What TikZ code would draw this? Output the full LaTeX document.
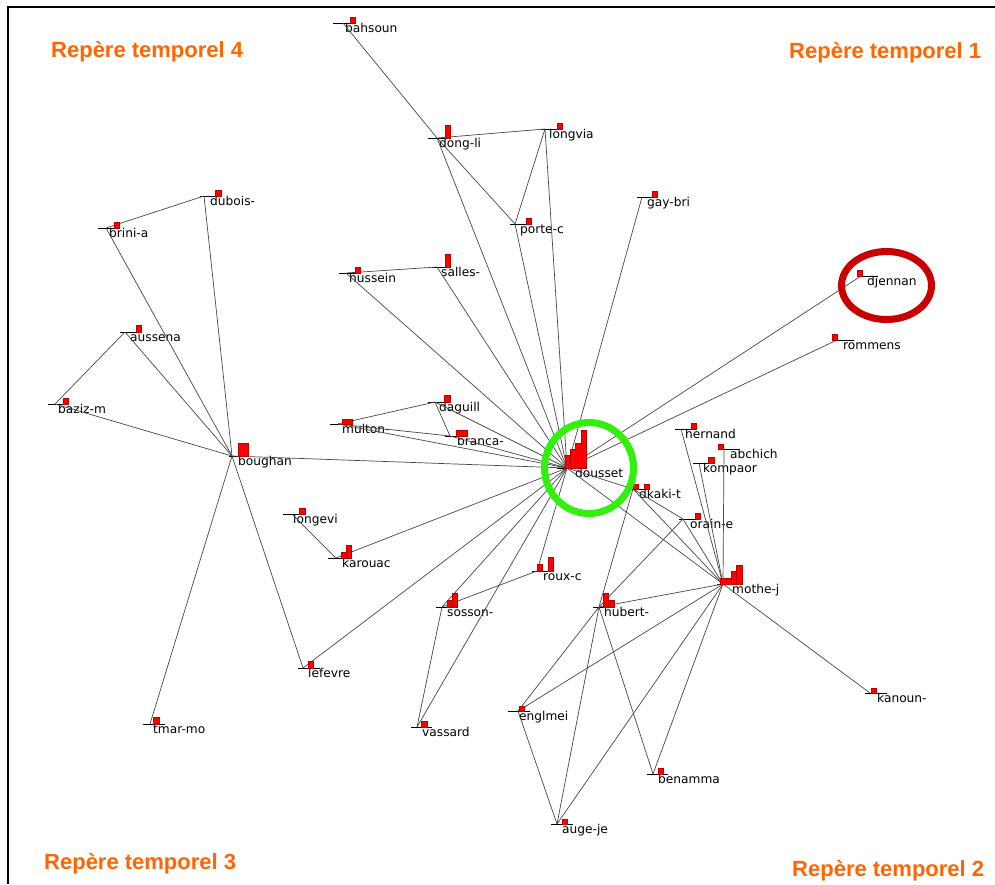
\documentclass[tikz,border=0pt]{standalone}
\usepackage{fontspec}
\setmainfont{DejaVu Sans}
\newfontfamily\titlefont{Liberation Sans}
\definecolor{orangeT}{RGB}{255,102,0}
\definecolor{redE}{RGB}{200,0,0}
\definecolor{greenC}{RGB}{50,240,10}
\definecolor{barred}{RGB}{255,0,0}
\tikzset{
  edge/.style={draw=black!72, line width=0.7pt},
  tickline/.style={draw=black, line width=0.7pt},
  barbox/.style={fill=barred, draw=red!75!black, line width=0.3pt},
  lbl/.style={anchor=base west, inner sep=0pt, font=\fontsize{12.2}{14}\selectfont, text=black},
  ttl/.style={anchor=base west, inner sep=0pt, font=\titlefont\bfseries\fontsize{22}{26}\selectfont, text=orangeT},
  anc/.style={inner sep=0pt, minimum size=0pt},
  ring/.style={line width=7pt},
}
% name, anchor x, line y, line left, line right, label x, text
\newcommand{\gnode}[7]{%
  \node[anc] (#1) at (#2,#3) {};
  \draw[tickline] (#4,#3) -- (#5,#3);
  \node[lbl] (#1-l) at (#6,#3+9.5) {#7};
}
\newcommand{\gbar}[4]{\fill[barbox] (#1,#3) rectangle (#2,#4);}
\begin{document}
\begin{tikzpicture}[x=1pt,y=-1pt]
\useasboundingbox (0,0) rectangle (995,884);
\fill[white] (0,0) rectangle (995,884);
\draw[line width=2pt] (995,7) -- (8,7) -- (8,884);

% nodes
\gnode{bahsoun}{343}{23}{333}{350}{345}{bahsoun}
\gnode{dongli}{437}{138}{428}{445}{439}{dong-li}
\gnode{longvia}{545}{129}{541}{557}{549}{longvia}
\gnode{portec}{515}{224}{510}{527}{520}{porte-c}
\gnode{gaybri}{642}{197}{637}{653}{647}{gay-bri}
\gnode{hussein}{346}{273}{339}{357}{349}{hussein}
\gnode{salles}{437}{267}{432}{447}{441}{salles-}
\gnode{djennan}{861}{276}{860}{878}{867}{djennan}
\gnode{rommens}{837}{340}{837}{854}{843}{rommens}
\gnode{dubois}{204}{196}{200}{217}{210}{dubois-}
\gnode{brini}{106}{228}{98}{115}{109}{brini-a}
\gnode{aussena}{125}{332}{120}{137}{130}{aussena}
\gnode{baziz}{55}{404}{48}{65}{58}{baziz-m}
\gnode{boughan}{232}{456}{229}{248}{238}{boughan}
\gnode{longevi}{292}{514}{283}{300}{293}{longevi}
\gnode{karouac}{336}{558}{328}{345}{342}{karouac}
\gnode{daguill}{435}{402}{428}{445}{439}{daguill}
\gnode{multon}{338}{424}{330}{345}{342}{multon-}
\gnode{branca}{450}{436}{445}{460}{457}{branca-}
\gnode{dousset}{567}{468}{557}{575}{575}{dousset}
\gnode{rouxc}{537}{571}{532}{548}{543}{roux-c}
\gnode{sosson}{442}{607}{436}{452}{447}{sosson-}
\gnode{hubert}{599}{607}{593}{610}{604}{hubert-}
\gnode{dkaki}{633}{489}{628}{645}{639}{dkaki-t}
\gnode{orain}{683}{519}{679}{696}{690}{orain-e}
\gnode{hernand}{681}{429}{675}{692}{685}{hernand}
\gnode{abchich}{724}{449}{723}{739}{730}{abchich}
\gnode{kompaor}{699}{463}{693}{710}{703}{kompaor}
\gnode{mothe}{723}{584}{717}{734}{732}{mothe-j}
\gnode{kanoun}{870}{693}{865}{887}{877}{kanoun-}
\gnode{benamma}{653}{774}{647}{668}{658}{benamma}
\gnode{englmei}{518}{711}{508}{530}{519}{englmei}
\gnode{vassard}{417}{727}{411}{432}{422}{vassard}
\gnode{augeje}{557}{824}{551}{573}{562}{auge-je}
\gnode{tmarmo}{150}{724}{143}{165}{153}{tmar-mo}
\gnode{lefevre}{303}{668}{298}{320}{308}{lefevre}

% connectors
\foreach \a/\b in {bahsoun/dongli, dongli/longvia, dongli/portec, dongli/dousset,
  longvia/portec, longvia/dousset, portec/dousset, gaybri/dousset,
  hussein/salles, hussein/dousset, salles/dousset, djennan/dousset, rommens/dousset,
  dubois/brini, brini/boughan, dubois/boughan, aussena/baziz, aussena/boughan,
  baziz/boughan, boughan/dousset, boughan/tmarmo, boughan/lefevre,
  longevi/karouac, karouac/dousset, lefevre/dousset,
  multon/daguill, multon/branca, multon/dousset, daguill/branca, daguill/dousset,
  branca/dousset, rouxc/dousset, rouxc/sosson, sosson/dousset, sosson/vassard,
  vassard/dousset, dousset/dkaki, dousset/mothe, dkaki/mothe, dkaki/hubert,
  dkaki/orain, orain/hubert, orain/mothe, hernand/mothe, kompaor/mothe, abchich/mothe,
  hubert/mothe, hubert/englmei, hubert/augeje, hubert/benamma, mothe/benamma,
  mothe/augeje, mothe/englmei, mothe/kanoun, englmei/augeje}
  {\draw[edge] (\a) -- (\b);}

% bars
\gbar{350}{355}{23}{17}
\gbar{445}{450}{138}{125}
\gbar{557}{562}{129}{123}
\gbar{526}{531}{224}{218}
\gbar{652}{657}{197}{191}
\gbar{355}{360}{273}{267}
\gbar{445}{450}{267}{254}
\gbar{857}{862}{276}{270}
\gbar{832}{837}{340}{334}
\gbar{215}{221}{196}{190}
\gbar{114}{119}{228}{222}
\gbar{136}{141}{332}{325}
\gbar{63}{68}{404}{398}
\gbar{238}{243}{456}{443}
\gbar{243}{248}{456}{443}
\gbar{299}{305}{514}{508}
\gbar{341}{346}{558}{552}
\gbar{346}{351}{558}{545}
\gbar{444}{450}{402}{395}
\gbar{342}{347}{424}{419}
\gbar{347}{352}{424}{419}
\gbar{456}{461}{436}{430}
\gbar{461}{467}{436}{430}
\gbar{565}{570}{468}{455}
\gbar{570}{575}{468}{449}
\gbar{575}{581}{468}{443}
\gbar{581}{586}{468}{430}
\gbar{537}{542}{571}{564}
\gbar{548}{553}{571}{557}
\gbar{447}{452}{607}{600}
\gbar{452}{457}{607}{593}
\gbar{603}{608}{607}{593}
\gbar{608}{614}{607}{600}
\gbar{633}{638}{489}{484}
\gbar{644}{649}{489}{484}
\gbar{695}{700}{519}{513}
\gbar{691}{696}{429}{423}
\gbar{718}{723}{449}{444}
\gbar{708}{714}{463}{457}
\gbar{720}{726}{584}{578}
\gbar{726}{731}{584}{578}
\gbar{731}{736}{584}{571}
\gbar{736}{742}{584}{565}
\gbar{871}{876}{693}{688}
\gbar{658}{663}{774}{768}
\gbar{519}{524}{711}{706}
\gbar{421}{427}{727}{721}
\gbar{562}{567}{824}{819}
\gbar{153}{159}{724}{717}
\gbar{308}{313}{668}{661}

% highlight rings
\draw[ring, redE] (886.5,285.5) ellipse [x radius=45, y radius=34];
\draw[ring, greenC] (589,468) ellipse [x radius=44.5, y radius=45.5];

% titles
\node[ttl] (t4) at (51,57) {Repère temporel 4};
\node[ttl] (t1) at (789,58) {Repère temporel 1};
\node[ttl] (t3) at (44,869) {Repère temporel 3};
\node[ttl] (t2) at (792,876) {Repère temporel 2};
\end{tikzpicture}
\end{document}
